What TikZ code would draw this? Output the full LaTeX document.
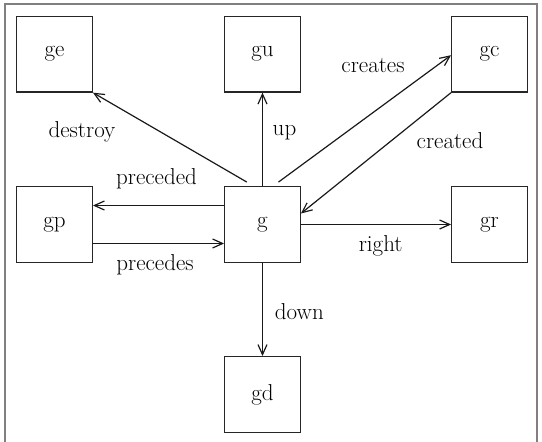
\documentclass[tikz,border=0pt]{standalone}
\usepackage{fontspec}
\usetikzlibrary{arrows.meta}
\begin{document}
\begin{tikzpicture}[x=1pt,y=-1pt,
  box/.style={draw=black!85,line width=1.4pt,minimum width=75.5pt,minimum height=75.5pt,inner sep=0pt,font=\fontsize{23}{28}\selectfont},
  lbl/.style={inner sep=0pt,font=\fontsize{23}{28}\selectfont,text=black},
  arr/.style={draw=black!90,line width=1.2pt,-{Straight Barb[length=10pt,width=9pt,line width=1.2pt]}}]
\useasboundingbox (0,0) rectangle (542,442);
\begin{scope}
\clip (0,0) rectangle (542,442);
\draw[black!50,line width=1.8pt] (5,4) rectangle (537,450);
\end{scope}
\node[box] (ge) at (54.5,54.2) {ge};
\node[box] (gu) at (262.5,54.2) {gu};
\node[box] (gc) at (489.5,54.2) {gc};
\node[box] (gp) at (54.5,224.5) {gp};
\node[box] (g) at (262.5,224.5) {g};
\node[box] (gr) at (489.5,224.5) {gr};
\node[box] (gd) at (262.5,394.5) {gd};
\draw[arr] ([xshift=-15.7pt,yshift=4pt]g.north) -- (ge.south east);
\draw[arr] (g.north) -- (gu.south);
\draw[arr] ([xshift=16pt,yshift=4pt]g.north) -- ([yshift=-1pt]gc.west);
\draw[arr] (gc.south west) -- ([yshift=11pt]g.east);
\draw[arr] ([yshift=19pt]g.west) -- ([yshift=19pt]gp.east);
\draw[arr] ([yshift=-19pt]gp.east) -- ([yshift=-19pt]g.west);
\draw[arr] (g.east) -- (gr.west);
\draw[arr] (g.south) -- (gd.north);
\node[lbl] (ldestroy) at (82,131.7) {destroy};
\node[lbl] (lup) at (284.5,133) {up};
\node[lbl] (lcreates) at (373,66) {creates};
\node[lbl] (lcreated) at (450,140.7) {created};
\node[lbl] (lpreceded) at (156.5,179) {preceded};
\node[lbl] (lprecedes) at (155,265) {precedes};
\node[lbl] (lright) at (380.7,246) {right};
\node[lbl] (ldown) at (299.4,311.7) {down};
\end{tikzpicture}
\end{document}
